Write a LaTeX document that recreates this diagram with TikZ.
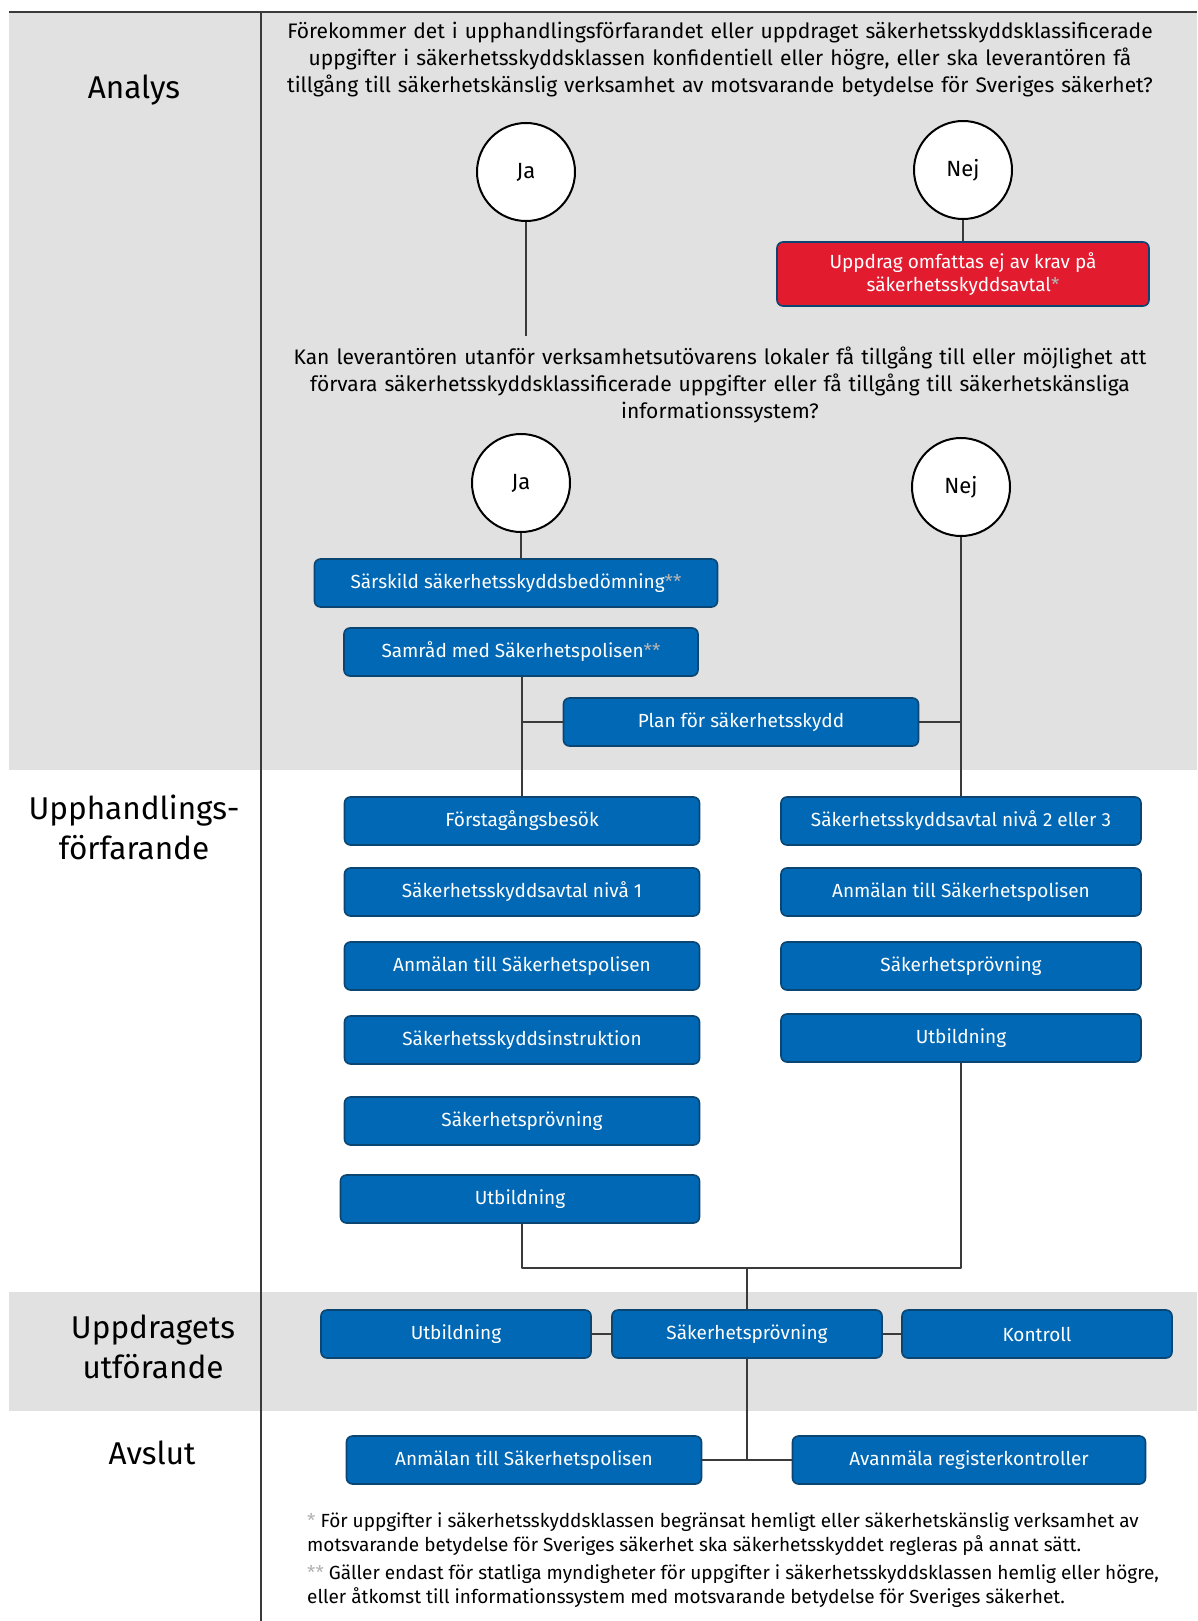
\documentclass[tikz,border=0pt]{standalone}
\usepackage{fontspec}
\setmainfont{Fira Sans}
\definecolor{bandgray}{HTML}{E1E1E1}
\definecolor{boxblue}{HTML}{0068B4}
\definecolor{boxedge}{HTML}{0B4673}
\definecolor{boxred}{HTML}{E31B2F}
\definecolor{linegray}{HTML}{3A3A3A}
\definecolor{markgray}{HTML}{B4B4B4}
\newcommand{\fotmark}[1]{\textcolor{markgray}{#1}}
\tikzset{
  stepbox/.style={draw=boxedge, line width=1.6pt, fill=boxblue, rounded corners=6pt,
    text=white, minimum height=48pt, inner sep=2pt, align=center,
    font=\fontsize{19}{23.5}\selectfont},
  redbox/.style={stepbox, fill=boxred, minimum height=64pt},
  answer/.style={circle, draw=black, line width=2pt, fill=white, minimum size=98pt,
    font=\fontsize{22}{26}\selectfont},
  question/.style={align=center, text width=920pt, inner sep=0pt,
    font=\fontsize{21}{27}\selectfont},
  phase/.style={align=center, inner sep=0pt, font=\fontsize{31.5}{40}\selectfont},
  conn/.style={draw=linegray, line width=1.4pt}
}
\begin{document}
\begin{tikzpicture}[x=1pt, y=-1pt, line join=round]
  \useasboundingbox (0,0) rectangle (1197,1621);
  % bakgrund
  \fill[bandgray] (9,12) rectangle (1197,770);
  \fill[bandgray] (9,1292) rectangle (1197,1411);
  \draw[linegray, line width=1.2pt] (9,12) -- (1197,12);
  \draw[linegray, line width=1.2pt] (261,12) -- (261,1621);
  % faser
  \node[phase] (analys) at (134,90) {Analys};
  \node[phase] (upph) at (134,827) {Upphandlings-\\förfarande};
  \node[phase] (utf) at (153,1347) {Uppdragets\\utförande};
  \node[phase] (avslut) at (152,1453) {Avslut};
  % analys
  \node[question] (q1) at (720,60) {Förekommer det i upphandlingsförfarandet eller uppdraget säkerhetsskyddsklassificerade\\uppgifter i säkerhetsskyddsklassen konfidentiell eller högre, eller ska leverantören få\\tillgång till säkerhetskänslig verksamhet av motsvarande betydelse för Sveriges säkerhet?};
  \node[answer] (ja1) at (526,172) {Ja};
  \node[answer] (nej1) at (963,170) {Nej};
  \node[redbox, minimum width=372pt] (ejkrav) at (963,274) {Uppdrag omfattas ej av krav på\\säkerhetsskyddsavtal\fotmark{*}};
  \coordinate (ja1end) at (526,336);
  \node[question] (q2) at (720,385) {Kan leverantören utanför verksamhetsutövarens lokaler få tillgång till eller möjlighet att\\förvara säkerhetsskyddsklassificerade uppgifter eller få tillgång till säkerhetskänsliga\\informationssystem?};
  \node[answer] (ja2) at (521,483) {Ja};
  \node[answer] (nej2) at (961,487) {Nej};
  \node[stepbox, minimum width=403pt] (sarskild) at (516,583) {Särskild säkerhetsskyddsbedömning\fotmark{**}};
  \node[stepbox, minimum width=354pt] (samrad) at (521,652) {Samråd med Säkerhetspolisen\fotmark{**}};
  \node[stepbox, minimum width=355pt] (plan) at (741,722) {Plan för säkerhetsskydd};
  % upphandlingsförfarande
  \node[stepbox, minimum width=355pt] (forsta) at (522,821) {Förstagångsbesök};
  \node[stepbox, minimum width=355pt] (avtal1) at (522,892) {Säkerhetsskyddsavtal nivå 1};
  \node[stepbox, minimum width=355pt] (lanm) at (522,966) {Anmälan till Säkerhetspolisen};
  \node[stepbox, minimum width=355pt] (instr) at (522,1040) {Säkerhetsskyddsinstruktion};
  \node[stepbox, minimum width=355pt] (lprov) at (522,1121) {Säkerhetsprövning};
  \node[stepbox, minimum width=359pt] (lutb) at (520,1199) {Utbildning};
  \node[stepbox, minimum width=360pt] (avtal23) at (961,821) {Säkerhetsskyddsavtal nivå 2 eller 3};
  \node[stepbox, minimum width=360pt] (ranm) at (961,892) {Anmälan till Säkerhetspolisen};
  \node[stepbox, minimum width=360pt] (rprov) at (961,966) {Säkerhetsprövning};
  \node[stepbox, minimum width=360pt] (rutb) at (961,1038) {Utbildning};
  \coordinate (samman) at (747,1268);
  % uppdragets utförande
  \node[stepbox, minimum width=270pt] (mutb) at (456,1334) {Utbildning};
  \node[stepbox, minimum width=270pt] (mprov) at (747,1334) {Säkerhetsprövning};
  \node[stepbox, minimum width=270pt] (kontroll) at (1037,1334) {Kontroll};
  % avslut
  \node[stepbox, minimum width=355pt] (aanm) at (524,1460) {Anmälan till Säkerhetspolisen};
  \node[stepbox, minimum width=353pt] (avanm) at (969,1460) {Avanmäla registerkontroller};
  % linjer
  \draw[conn] (ja1) -- (ja1end);
  \draw[conn] (nej1) -- (ejkrav);
  \draw[conn] (ja2) -- (ja2 |- sarskild.north);
  \draw[conn] (samrad.south -| forsta.north) -- (forsta.north);
  \draw[conn] (plan.west) -- (plan.west -| forsta.north);
  \draw[conn] (nej2) -- (avtal23);
  \draw[conn] (plan.east) -- (plan.east -| avtal23.north);
  \draw[conn] (lutb.south -| forsta.south) |- (samman) -| (rutb.south);
  \draw[conn] (samman) -- (mprov.north);
  \draw[conn] (mutb) -- (mprov);
  \draw[conn] (mprov) -- (kontroll);
  \draw[conn] (mprov.south) -- (mprov.south |- aanm.east);
  \draw[conn] (aanm) -- (avanm);
  % fotnoter
  \node[anchor=north west, align=left, inner sep=0pt, font=\fontsize{19}{24.8}\selectfont] (fot1) at (307,1512)
    {\fotmark{*} För uppgifter i säkerhetsskyddsklassen begränsat hemligt eller säkerhetskänslig verksamhet av\\motsvarande betydelse för Sveriges säkerhet ska säkerhetsskyddet regleras på annat sätt.};
  \node[anchor=north west, align=left, inner sep=0pt, font=\fontsize{19}{24.8}\selectfont] (fot2) at (307,1564)
    {\fotmark{**} Gäller endast för statliga myndigheter för uppgifter i säkerhetsskyddsklassen hemlig eller högre,\\eller åtkomst till informationssystem med motsvarande betydelse för Sveriges säkerhet.};
\end{tikzpicture}
\end{document}
